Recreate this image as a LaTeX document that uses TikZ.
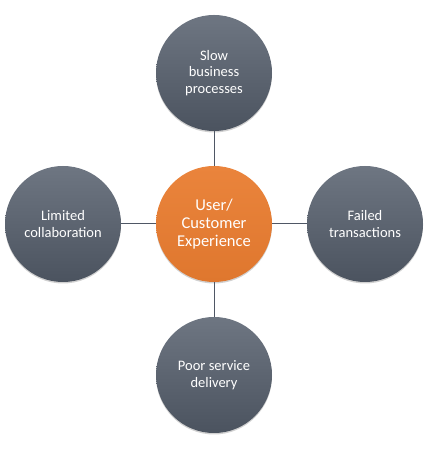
\documentclass[tikz,border=0pt]{standalone}
\usepackage{fontspec}
\setmainfont{Carlito}
\usetikzlibrary{shadows}
\definecolor{gtop}{HTML}{6E7682}
\definecolor{gbot}{HTML}{4B535F}
\definecolor{otop}{HTML}{EA843C}
\definecolor{obot}{HTML}{DF772E}
\definecolor{linkc}{HTML}{4F5765}
\tikzset{
  bubble/.style={circle, minimum size=116pt, inner sep=0pt, align=center,
    text=white, top color=gtop, bottom color=gbot, draw=none,
    font=\fontsize{14.5pt}{16.7pt}\selectfont,
    drop shadow={shadow xshift=0pt, shadow yshift=-1.5pt, opacity=0.3, fill=black!60}},
  hub/.style={bubble, top color=otop, bottom color=obot,
    font=\fontsize{16.5pt}{18.3pt}\selectfont},
  link/.style={draw=linkc, line width=1pt}
}
\begin{document}
\begin{tikzpicture}[x=1pt,y=1pt]
\useasboundingbox (0,0) rectangle (428,449);
\node[hub] (c) at (214,225) {User/\\Customer\\Experience};
\node[bubble] (t) at (214,376) {Slow\\business\\processes};
\node[bubble] (l) at (63,225) {Limited\\collaboration};
\node[bubble] (r) at (365,225) {Failed\\transactions};
\node[bubble] (b) at (214,74) {Poor service\\delivery};
\draw[link] (c) -- (t);
\draw[link] (c) -- (l);
\draw[link] (c) -- (r);
\draw[link] (c) -- (b);
\end{tikzpicture}
\end{document}
